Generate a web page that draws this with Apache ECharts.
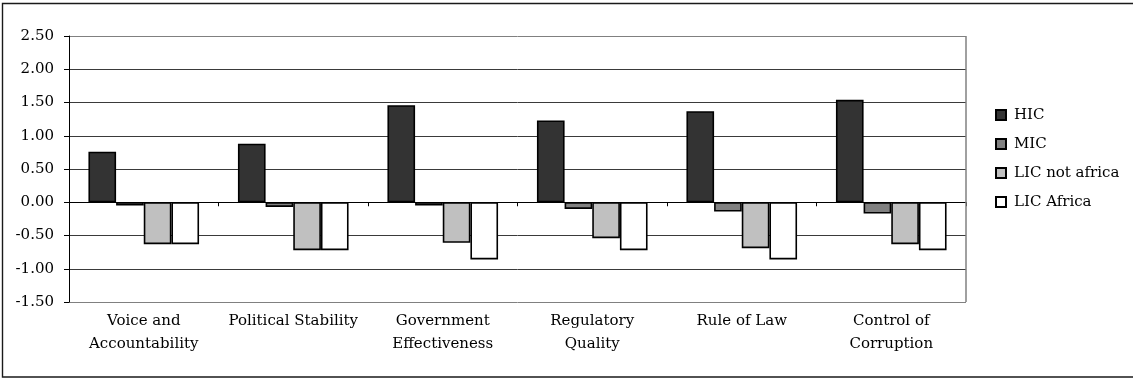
<!DOCTYPE html>
<html>
<head>
<meta charset="utf-8">
<title>Governance indicators by income group</title>
<script src="https://cdn.jsdelivr.net/npm/echarts@6/dist/echarts.min.js"></script>
<style>
  html, body { margin: 0; padding: 0; background: #fff; }
  #chart { width: 1133px; height: 379px; }
</style>
</head>
<body>
<div id="chart"></div>
<script>
// Governance dimensions along the category axis
const categories = [
  'Voice and\nAccountability',
  'Political Stability',
  'Government\nEffectiveness',
  'Regulatory\nQuality',
  'Rule of Law',
  'Control of\nCorruption'
];

// Average indicator scores per income group
const hic          = [0.76, 0.88, 1.46, 1.23, 1.37, 1.54];
const mic          = [-0.05, -0.07, -0.05, -0.10, -0.14, -0.17];
const licNotAfrica = [-0.63, -0.72, -0.61, -0.54, -0.69, -0.63];
const licAfrica    = [-0.63, -0.72, -0.86, -0.72, -0.86, -0.72];

const seriesNames = ['HIC', 'MIC', 'LIC not africa', 'LIC Africa'];
const seriesData = [hic, mic, licNotAfrica, licAfrica];
const seriesColors = ['#333333', '#808080', '#c0c0c0', '#ffffff'];

// Value axis ticks
const yMin = -1.5, yMax = 2.5, yStep = 0.5;

const FONT = 'DejaVu Serif';

// One colour per horizontal grid line: the outermost two double as the plot frame
const tickCount = Math.round((yMax - yMin) / yStep) + 1;
const gridColors = [];
for (let i = 0; i < tickCount; i++) {
  gridColors.push(i === 0 || i === tickCount - 1 ? '#808080' : '#3a3a3a');
}

const chart = echarts.init(document.getElementById('chart'), null, { renderer: 'canvas' });

chart.setOption({
  animation: false,
  backgroundColor: '#ffffff',
  textStyle: { fontFamily: FONT },
  graphic: [{
    type: 'rect',
    z: 100,
    silent: true,
    shape: { x: 2.5, y: 3.5, width: 1200, height: 373.5 },
    style: { fill: 'none', stroke: '#1a1a1a', lineWidth: 1.4 }
  }, {
    // right edge of the plot frame
    type: 'line',
    z: 5,
    silent: true,
    shape: { x1: 966, y1: 36, x2: 966, y2: 302 },
    style: { stroke: '#808080', lineWidth: 1.5 }
  }],
  grid: { left: 69, top: 36, right: 167, bottom: 77, containLabel: false },
  legend: {
    orient: 'vertical',
    left: 995,
    top: 106,
    padding: 0,
    itemWidth: 10,
    itemHeight: 10,
    itemGap: 11,
    icon: 'rect',
    data: seriesNames,
    textStyle: {
      fontFamily: FONT,
      fontSize: 15,
      color: '#000',
      lineHeight: 18,
      padding: [0, 0, 0, 3]
    }
  },
  xAxis: [{
    // axis line crossing at zero, with boundary ticks
    type: 'category',
    data: categories,
    position: 'bottom',
    axisLine: { onZero: true, lineStyle: { color: '#000', width: 1 } },
    axisTick: { show: true, length: 4, alignWithLabel: false, lineStyle: { color: '#000' } },
    axisLabel: { show: false },
    splitLine: { show: false }
  }, {
    // labels along the bottom of the plot
    type: 'category',
    data: categories,
    position: 'bottom',
    axisLine: { show: false, onZero: false },
    axisTick: { show: false },
    axisLabel: {
      show: true,
      interval: 0,
      margin: 8,
      fontFamily: FONT,
      fontSize: 15,
      lineHeight: 23,
      color: '#000'
    }
  }],
  yAxis: {
    type: 'value',
    min: yMin,
    max: yMax,
    interval: yStep,
    axisLine: { show: true, lineStyle: { color: '#000', width: 1 } },
    axisTick: { show: true, length: 5, lineStyle: { color: '#000' } },
    axisLabel: {
      margin: 15,
      fontFamily: FONT,
      fontSize: 15,
      color: '#000',
      formatter: v => v.toFixed(2)
    },
    splitLine: { show: true, lineStyle: { color: gridColors, width: 1 } }
  },
  series: seriesNames.map((name, i) => ({
    name: name,
    type: 'bar',
    xAxisIndex: 0,
    data: seriesData[i],
    barGap: '0%',
    barCategoryGap: '26%',
    itemStyle: {
      color: seriesColors[i],
      borderColor: '#000',
      borderWidth: 1.6
    }
  }))
});
</script>
</body>
</html>
